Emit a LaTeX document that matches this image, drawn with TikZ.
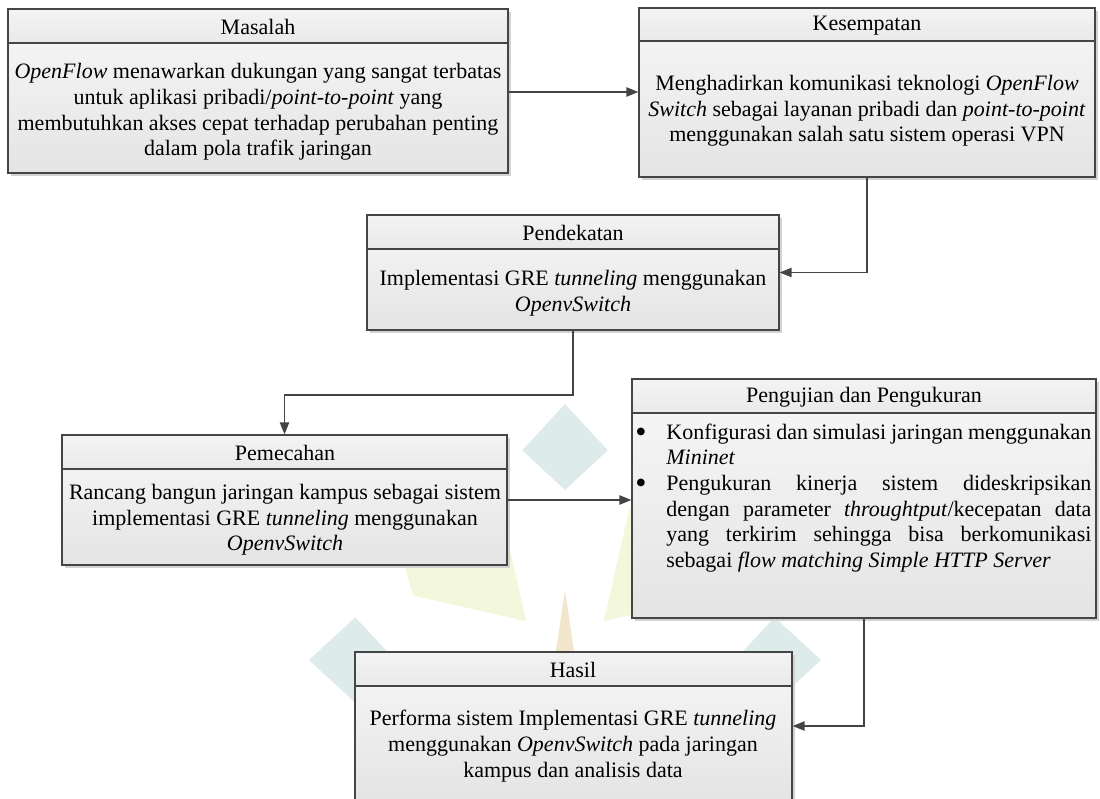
\documentclass[tikz,border=0pt]{standalone}
\usepackage{fontspec}
\setmainfont{Liberation Serif}
\usetikzlibrary{arrows.meta,fit,shadows}
\definecolor{boxline}{HTML}{454545}
\definecolor{connc}{HTML}{444444}
\definecolor{wmteal}{HTML}{DDEBEA}
\definecolor{wmgreen}{HTML}{F3F7DC}
\definecolor{wmorange}{HTML}{F2E6CC}
\tikzset{
  boxbody/.style={draw=boxline, line width=0.6pt, inner sep=0pt, top color=gray!6, bottom color=gray!21,
    drop shadow={shadow xshift=1.5pt, shadow yshift=-1.5pt, fill=gray!35, opacity=1}},
  boxhead/.style={draw=boxline, line width=0.6pt, inner sep=0pt, top color=gray!9, bottom color=gray!17},
  txt/.style={align=center, inner sep=0pt, text=black, font=\fontsize{11pt}{12.8pt}\selectfont},
  bulltxt/.style={align=justify, inner sep=0pt, text=black, text width=228pt, font=\fontsize{11pt}{12.8pt}\selectfont},
  conn/.style={draw=connc, line width=0.8pt, -{Triangle[length=6pt,width=4.6pt]}}
}
\newcommand{\bulletmark}{\makebox[15.5pt][l]{\raisebox{-1.6pt}{\scalebox{1.45}{\textbullet}}}}
\begin{document}
\begin{tikzpicture}[x=0.5pt,y=-0.5pt]
\clip (0,0) rectangle (1100,799);
\fill[white] (0,0) rectangle (1100,799);
% faint watermark logo
\begin{scope}[shift={(565,660)}]
  \foreach \a in {45,135,225,315}
    \fill[wmgreen] (\a:55) -- (\a+22:165) -- (\a:265) -- (\a-22:165) -- cycle;
  \foreach \a in {0,90,180,270}
    \fill[wmteal] (\a:170) -- (\a+11.5:214) -- (\a:256) -- (\a-11.5:214) -- cycle;
  \fill[wmorange] (0,-70) -- (9,-9) -- (45,0) -- (9,9) -- (0,45) -- (-9,9) -- (-45,0) -- (-9,-9) -- cycle;
\end{scope}
% boxes
\node[boxbody, fit={(8,9) (508,173)}] (mas) {};
\node[boxhead, fit={(8,9) (508,43)}] (mash) {};
\node[boxbody, fit={(639,8) (1095,177)}] (kes) {};
\node[boxhead, fit={(639,8) (1095,41)}] (kesh) {};
\node[boxbody, fit={(367,215) (779,330)}] (pend) {};
\node[boxhead, fit={(367,215) (779,249)}] (pendh) {};
\node[boxbody, fit={(62,435) (507,565)}] (pem) {};
\node[boxhead, fit={(62,435) (507,469)}] (pemh) {};
\node[boxbody, fit={(632,379) (1096,618)}] (peng) {};
\node[boxhead, fit={(632,379) (1096,413)}] (pengh) {};
\node[boxbody, fit={(355,652) (792,800)}] (has) {};
\node[boxhead, fit={(355,652) (792,686)}] (hash) {};
% texts
\node[txt] (t1) at (258,27) {Masalah};
\node[txt] (b1) at (258,112) {\textit{OpenFlow} menawarkan dukungan yang sangat terbatas\\untuk aplikasi pribadi/\textit{point-to-point} yang\\membutuhkan akses cepat terhadap perubahan penting\\dalam pola trafik jaringan};
\node[txt] (t2) at (867,26) {Kesempatan};
\node[txt] (b2) at (867,111) {Menghadirkan komunikasi teknologi \textit{OpenFlow}\\\textit{Switch} sebagai layanan pribadi dan \textit{point-to-point}\\menggunakan salah satu sistem operasi VPN};
\node[txt] (t3) at (573,233) {Pendekatan};
\node[txt] (b3) at (573,293) {Implementasi GRE \textit{tunneling} menggunakan\\\textit{OpenvSwitch}};
\node[txt] (t4) at (285,453) {Pemecahan};
\node[txt] (b4) at (285,520) {Rancang bangun jaringan kampus sebagai sistem\\implementasi GRE \textit{tunneling} menggunakan\\\textit{OpenvSwitch}};
\node[txt] (t5) at (864,397) {Pengujian dan Pengukuran};
\node[bulltxt, anchor=west] (b5) at (635,498) {%
\hangindent=15.5pt\hangafter=1\noindent\bulletmark Konfigurasi dan simulasi jaringan menggunakan\linebreak \textit{Mininet}\par
\hangindent=15.5pt\hangafter=1\noindent\bulletmark Pengukuran kinerja sistem dideskripsikan\linebreak dengan parameter \textit{throughtput}/kecepatan data\linebreak yang terkirim sehingga bisa berkomunikasi\linebreak sebagai \textit{flow matching Simple HTTP Server}\par};
\node[txt] (t6) at (573,670) {Hasil};
\node[txt] (b6) at (573,746) {Performa sistem Implementasi GRE \textit{tunneling}\\menggunakan \textit{OpenvSwitch} pada jaringan\\kampus dan analisis data};
% connectors
\coordinate (bend1) at (400,395);
\coordinate (c1) at (0,92);
\draw[conn] (mas.east |- c1) -- (kes.west |- c1);
\draw[conn] (kes.south) |- (pend.east);
\draw[conn] (pend.south) |- (bend1) -| (pem.north);
\draw[conn] (pem.east) -- (pem.east -| peng.west);
\draw[conn] (peng.south) |- (has.east);
\end{tikzpicture}
\end{document}
